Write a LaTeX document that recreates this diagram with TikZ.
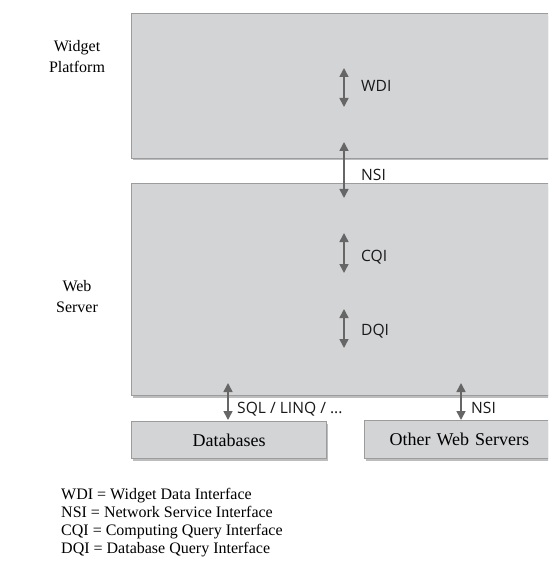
\documentclass[tikz,border=0pt]{standalone}
\usepackage{fontspec}
\setmainfont{Liberation Serif}
\newfontfamily\ifacefont{Open Sans}
\usetikzlibrary{arrows.meta}

\definecolor{layerfill}{HTML}{D3D4D6}
\definecolor{layeredge}{HTML}{9C9C9C}
\definecolor{layershade}{HTML}{BDBDBD}
\definecolor{arrowgray}{HTML}{666666}

\tikzset{
  layer/.style={draw=layeredge, fill=layerfill, line width=1.3pt, inner sep=0pt,
    anchor=north west, font=\fontsize{18}{21}\selectfont},
  shade/.style={fill=layershade, draw=none},
  iface/.style={arrowgray, line width=1.6pt,
    {Triangle[width=9pt,length=9pt]}-{Triangle[width=9pt,length=9pt]}},
  ifacelabel/.style={anchor=base west, inner sep=0pt,
    font=\ifacefont\fontsize{15.6}{18}\selectfont, text=black!90},
  sidelabel/.style={align=center, inner sep=0pt, font=\fontsize{16}{21}\selectfont},
  legend/.style={anchor=base west, inner sep=0pt, font=\fontsize{16}{18}\selectfont}
}

\begin{document}
\begin{tikzpicture}[x=1pt, y=-1pt]
\useasboundingbox (0,0) rectangle (548,561);
\clip (0,0) rectangle (548,561);

% soft drop shadows under the boxes
\fill[shade] (133,16) rectangle (562,160.5);
\fill[shade] (133,186) rectangle (562,397.5);
\fill[shade] (133,424) rectangle (328,460.5);
\fill[shade] (366,423) rectangle (558,460.5);

% layers
\node[layer, minimum width=430pt, minimum height=145pt] (platform) at (131,13) {};
\node[layer, minimum width=430pt, minimum height=212pt] (server) at (131,183) {};
\node[layer, minimum width=195pt, minimum height=37pt] (db) at (131,421) {Databases};
\node[layer, minimum width=190pt, minimum height=38pt, text width=190pt, align=left] (others) at (364,420) {\hspace{25pt}Other Web Servers};

% side captions
\node[sidelabel] (wplabel) at (77,57) {Widget\\Platform};
\node[sidelabel] (wslabel) at (77,297) {Web\\Server};

% interface arrow end points
\coordinate (wdiT) at (344,68);  \coordinate (wdiB) at (344,107);
\coordinate (nsiT) at (344,142); \coordinate (nsiB) at (344,198);
\coordinate (cqiT) at (344,233); \coordinate (cqiB) at (344,273);
\coordinate (dqiT) at (344,309); \coordinate (dqiB) at (344,348);
\coordinate (sqlT) at (228,383); \coordinate (sqlB) at (228,420);
\coordinate (extT) at (461,383); \coordinate (extB) at (461,420);

\draw[iface] (wdiT) -- (wdiB);
\draw[iface] (nsiT) -- (nsiB);
\draw[iface] (cqiT) -- (cqiB);
\draw[iface] (dqiT) -- (dqiB);
\draw[iface] (sqlT) -- (sqlB);
\draw[iface] (extT) -- (extB);

% interface names
\node[ifacelabel] (wdi) at (361,92) {WDI};
\node[ifacelabel] (nsi) at (361,181) {NSI};
\node[ifacelabel] (cqi) at (361,261) {CQI};
\node[ifacelabel] (dqi) at (361,335) {DQI};
\node[ifacelabel] (sql) at (237,413) {SQL / LINQ / ...};
\node[ifacelabel] (nsiext) at (471,413) {NSI};

% legend
\node[legend] (leg1) at (61,499) {WDI = Widget Data Interface};
\node[legend] (leg2) at (61,517) {NSI = Network Service Interface};
\node[legend] (leg3) at (61,535) {CQI = Computing Query Interface};
\node[legend] (leg4) at (61,553) {DQI = Database Query Interface};
\end{tikzpicture}
\end{document}
